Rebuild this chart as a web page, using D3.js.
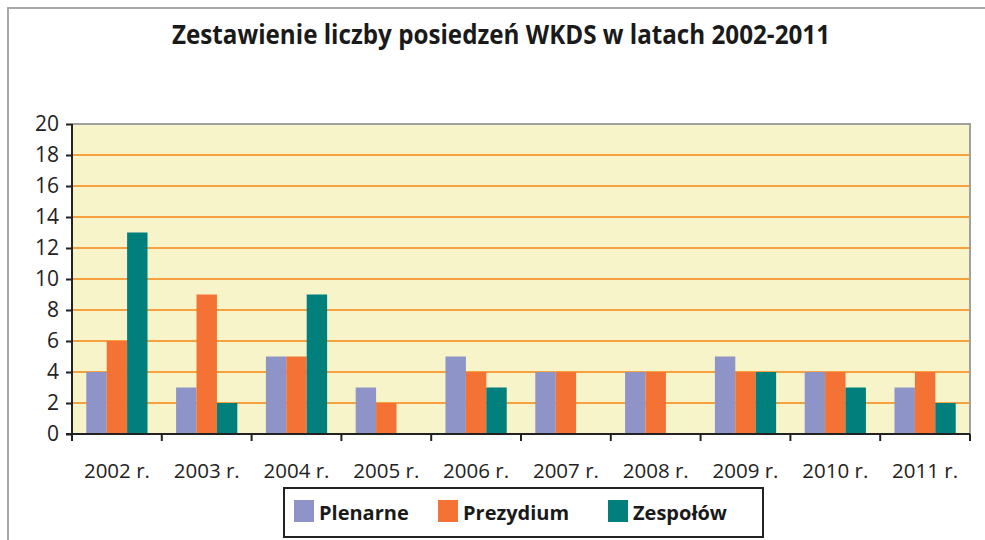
<!DOCTYPE html>
<html><head><meta charset="utf-8">
<script src="https://cdn.jsdelivr.net/npm/d3@7"></script>
<style>body{margin:0;background:#fff}svg{display:block}</style>
</head><body>
<svg id="c" width="985" height="540"></svg>
<script>
const categories = ["2002 r.","2003 r.","2004 r.","2005 r.","2006 r.","2007 r.","2008 r.","2009 r.","2010 r.","2011 r."];
const seriesNames = ["Plenarne","Prezydium","Zespołów"];
const plenarne  = [4,3,5,3,5,4,4,5,4,3];
const prezydium = [6,9,5,2,4,4,4,4,4,4];
const zespolow  = [13,2,9,0,3,0,0,4,3,2];
const yTicks = [0,2,4,6,8,10,12,14,16,18,20];
const colors = ["#8e94c8","#f47233","#007f7c"];
const title = "Zestawienie liczby posiedzeń WKDS w latach 2002-2011";

const series = [plenarne, prezydium, zespolow];
const svg = d3.select("#c");
const L = 72, R = 970, T = 124, B = 434;

// outer frame
svg.append("rect").attr("x",8).attr("y",8).attr("width",990).attr("height",540)
  .attr("fill","none").attr("stroke","#a8a8a8").attr("stroke-width",2);

svg.append("text").attr("x",501).attr("y",44).attr("text-anchor","middle")
  .attr("font-family","Open Sans").attr("font-weight","bold").attr("font-size",26)
  .attr("textLength",658).attr("lengthAdjust","spacingAndGlyphs").attr("fill","#1a1a1a")
  .text(title);

const x = d3.scaleBand().domain(categories).range([L,R]).paddingInner(0).paddingOuter(0);
const xs = d3.scaleBand().domain(d3.range(3)).range([0,x.bandwidth()]).paddingOuter(0.7).paddingInner(0);
const y = d3.scaleLinear().domain([0,20]).range([B,T]);

svg.append("rect").attr("x",L).attr("y",T).attr("width",R-L).attr("height",B-T).attr("fill","#f6f4c8");

// grid
svg.append("g").selectAll("line").data(yTicks.filter(v=>v>0 && v<20)).join("line")
  .attr("x1",L).attr("x2",R).attr("y1",d=>y(d)).attr("y2",d=>y(d))
  .attr("stroke","#f6a040").attr("stroke-width",2.2);

// bars
const g = svg.append("g");
categories.forEach((c,i)=>{
  series.forEach((s,j)=>{
    if (s[i] <= 0) return;
    g.append("rect").attr("x",x(c)+xs(j)).attr("width",xs.bandwidth())
      .attr("y",y(s[i])).attr("height",y(0)-y(s[i])).attr("fill",colors[j]);
  });
});

// plot frame top/right
svg.append("path").attr("d",`M${L},${T}H${R}V${B}`).attr("fill","none")
  .attr("stroke","#a0a0a0").attr("stroke-width",2);

// axes
const yAxis = d3.axisLeft(y).tickValues(yTicks).tickSize(6).tickPadding(7).tickFormat(d3.format("d"));
const ya = svg.append("g").attr("transform",`translate(${L},0)`).call(yAxis);
ya.select(".domain").remove();
ya.selectAll(".tick line").attr("stroke","#222").attr("stroke-width",2);
ya.selectAll("text").attr("font-family","Open Sans").attr("font-size",21).attr("fill","#222");

const xAxis = d3.axisBottom(x).tickSize(0).tickPadding(29);
const xa = svg.append("g").attr("transform",`translate(0,${B})`).call(xAxis);
xa.select(".domain").remove();
xa.selectAll("text").attr("font-family","Open Sans").attr("font-size",20.5).attr("fill","#222");
// category boundary ticks
svg.append("g").selectAll("line").data(categories.concat(["_end"])).join("line")
  .attr("x1",(d,i)=> i<categories.length ? x(d) : R).attr("x2",(d,i)=> i<categories.length ? x(d) : R)
  .attr("y1",B).attr("y2",B+7).attr("stroke","#222").attr("stroke-width",2);
svg.append("line").attr("x1",L-6).attr("x2",R).attr("y1",B).attr("y2",B).attr("stroke","#222").attr("stroke-width",2);
svg.append("line").attr("x1",L).attr("x2",L).attr("y1",T).attr("y2",B+7).attr("stroke","#222").attr("stroke-width",2);

// legend
const lg = svg.append("g");
lg.append("rect").attr("x",284).attr("y",488).attr("width",479).attr("height",49)
  .attr("fill","#fff").attr("stroke","#222").attr("stroke-width",2);
const lx = [294,438,608];
seriesNames.forEach((n,j)=>{
  lg.append("rect").attr("x",lx[j]).attr("y",500).attr("width",20).attr("height",22).attr("fill",colors[j]);
  lg.append("text").attr("x",lx[j]+25).attr("y",520).attr("font-family","Open Sans")
    .attr("font-weight","bold").attr("font-size",20).attr("fill","#1a1a1a").text(n);
});
</script>
</body></html>
